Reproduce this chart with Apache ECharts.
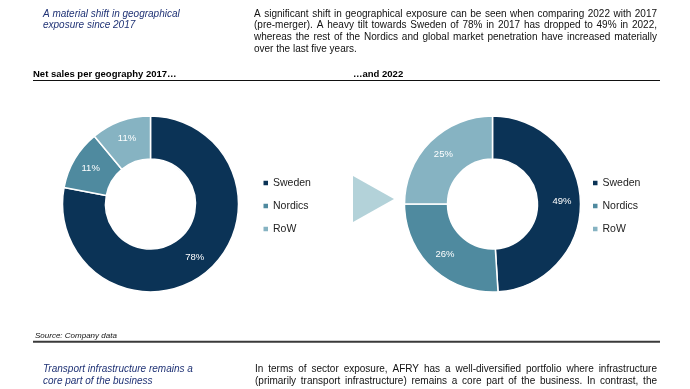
<!DOCTYPE html>
<html>
<head>
<meta charset="utf-8">
<script src="https://cdn.jsdelivr.net/npm/echarts@6/dist/echarts.min.js"></script>
<style>
html,body{margin:0;padding:0;background:#fff;}
#chart{width:690px;height:389px;}
</style>
</head>
<body>
<div id="chart"></div>
<script>
// ---- data ----
const categories = ['Sweden', 'Nordics', 'RoW'];
const values2017 = [78, 11, 11];
const values2022 = [49, 26, 25];
const colors = ['#0b3356', '#4f8a9f', '#86b3c2'];

const topHeading = ['A material shift in geographical', 'exposure since 2017'];
const topParagraph = [
  'A significant shift in geographical exposure can be seen when comparing 2022 with 2017',
  '(pre-merger). A heavy tilt towards Sweden of 78% in 2017 has dropped to 49% in 2022,',
  'whereas the rest of the Nordics and global market penetration have increased materially',
  'over the last five years.'
];
const bottomHeading = ['Transport infrastructure remains a', 'core part of the business'];
const bottomParagraph = [
  'In terms of sector exposure, AFRY has a well-diversified portfolio where infrastructure',
  '(primarily transport infrastructure) remains a core part of the business. In contrast, the'
];
const title2017 = 'Net sales per geography 2017\u2026';
const title2022 = '\u2026and 2022';
const sourceText = 'Source: Company data';

// ---- helpers ----
const FONT_FAMILY = '"Liberation Sans", Arial, sans-serif';
const mctx = document.createElement('canvas').getContext('2d');
function justified(lines, x, right, ys, size, color, lastJustified) {
  const els = [];
  mctx.font = size + 'px ' + FONT_FAMILY;
  lines.forEach((line, i) => {
    const words = line.split(' ');
    const isLast = i === lines.length - 1;
    if (isLast && !lastJustified) {
      els.push({type: 'text', x: x, y: ys[i], silent: true,
        style: {text: line, fill: color, font: size + 'px ' + FONT_FAMILY, textVerticalAlign: 'middle'}});
      return;
    }
    const widths = words.map(w => mctx.measureText(w).width);
    const total = widths.reduce((a, b) => a + b, 0);
    const gap = (right - x - total) / (words.length - 1);
    let cx = x;
    words.forEach((w, j) => {
      els.push({type: 'text', x: cx, y: ys[i], silent: true,
        style: {text: w, fill: color, font: size + 'px ' + FONT_FAMILY, textVerticalAlign: 'middle'}});
      cx += widths[j] + gap;
    });
  });
  return els;
}
function textEl(str, x, y, font, color) {
  return {type: 'text', x: x, y: y, silent: true,
    style: {text: str, fill: color, font: font, textVerticalAlign: 'middle'}};
}

const chart = echarts.init(document.getElementById('chart'), null, {renderer: 'canvas'});

const graphics = [];
const navy = '#1f3275';
const itFont = 'italic 10px ' + FONT_FAMILY;
graphics.push(textEl(topHeading[0], 43, 14, itFont, navy));
graphics.push(textEl(topHeading[1], 43, 25.7, itFont, navy));
graphics.push(...justified(topParagraph, 254, 657, [14, 25.7, 37.4, 49.1], 10, '#111', false));
graphics.push(textEl(title2017, 33, 74.5, 'bold 9.5px ' + FONT_FAMILY, '#000'));
graphics.push(textEl(title2022, 353, 74.5, 'bold 9.5px ' + FONT_FAMILY, '#000'));
graphics.push({type: 'line', silent: true, shape: {x1: 33, y1: 80.5, x2: 660, y2: 80.5},
  style: {stroke: '#111', lineWidth: 1.2}});
graphics.push({type: 'polygon', silent: true, shape: {points: [[353, 176], [394, 199], [353, 222]]},
  style: {fill: '#b3d2d9'}});
graphics.push(textEl(sourceText, 35, 335.5, 'italic 8px ' + FONT_FAMILY, '#111'));
graphics.push({type: 'line', silent: true, shape: {x1: 33, y1: 341.8, x2: 660, y2: 341.8},
  style: {stroke: '#3a3a3a', lineWidth: 2}});
graphics.push(textEl(bottomHeading[0], 43, 369, itFont, navy));
graphics.push(textEl(bottomHeading[1], 43, 381, itFont, navy));
graphics.push(...justified(bottomParagraph, 255, 657, [369, 381], 10, '#111', true));

function pieSeries(vals, cx) {
  return {
    type: 'pie',
    center: [cx, 204],
    radius: [45, 88],
    startAngle: 90,
    clockwise: true,
    animation: false,
    avoidLabelOverlap: false,
    emphasis: {disabled: true},
    itemStyle: {borderColor: '#fff', borderWidth: 1.5},
    label: {show: true, position: 'inside', formatter: '{c}%', color: '#fff',
      fontSize: 9.5, fontFamily: FONT_FAMILY},
    labelLine: {show: false},
    data: categories.map((c, i) => ({name: c, value: vals[i], itemStyle: {color: colors[i]}}))
  };
}

function legendAt(left) {
  return {
    orient: 'vertical', left: left, top: 177, padding: 0,
    itemWidth: 4.5, itemHeight: 4.5, itemGap: 11, icon: 'rect',
    selectedMode: false,
    itemStyle: {borderWidth: 0},
    textStyle: {fontSize: 10.5, fontFamily: FONT_FAMILY, color: '#222', lineHeight: 12},
    data: categories
  };
}

chart.setOption({
  backgroundColor: '#fff',
  animation: false,
  color: colors,
  legend: [legendAt(263.5), legendAt(593)],
  series: [pieSeries(values2017, 150.5), pieSeries(values2022, 492.5)],
  graphic: graphics
});
</script>
</body>
</html>
